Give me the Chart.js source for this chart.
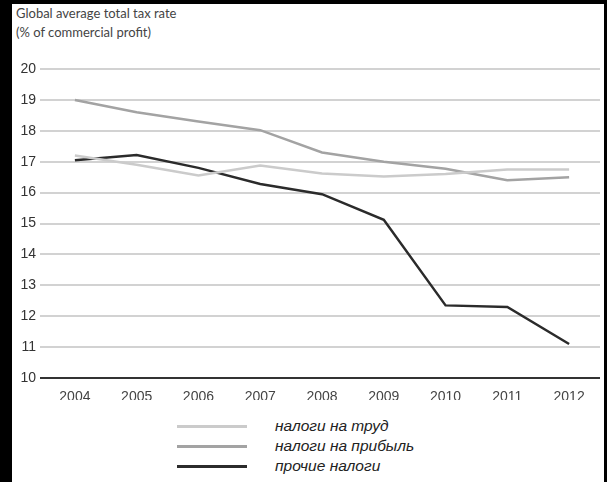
<!DOCTYPE html>
<html>
<head>
<meta charset="utf-8">
<script src="https://cdn.jsdelivr.net/npm/chart.js@4"></script>
<style>
  body { margin: 0; background: #fff; }
  #frame { position: relative; width: 607px; height: 482px; overflow: hidden; background: #fff; }
  #frame .bl { position: absolute; left: 0; top: 0; width: 12px; height: 482px; background: #000; }
  #frame .bt { position: absolute; left: 0; top: 0; width: 607px; height: 4px; background: #000; }
  #frame .br { position: absolute; right: 0; top: 0; width: 3px; height: 482px; background: #000; }
  #title { position: absolute; left: 16px; top: 4px; font-family: Lato, sans-serif; font-size: 13px; line-height: 19px; color: #444; }
  #wrap { position: absolute; left: 12px; top: 0; width: 592px; height: 400px; }
  #legend { position: absolute; left: 177px; top: 416px; font-family: "Liberation Sans", Arial, sans-serif; font-style: italic; font-size: 15.5px; color: #222; }
  #legend div { height: 20px; line-height: 20px; display: flex; align-items: center; }
  #legend span.ln { display: inline-block; width: 70px; height: 3px; margin-right: 28px; }
</style>
</head>
<body>
<div id="frame">
  <div class="bl"></div><div class="bt"></div><div class="br"></div>
  <div id="title">Global average total tax rate<br>(% of commercial profit)</div>
  <div id="wrap"><canvas id="myChart"></canvas></div>
  <div id="legend"></div>
</div>
<script>
const years = ['2004', '2005', '2006', '2007', '2008', '2009', '2010', '2011', '2012'];
const laborTax = [17.2, 16.9, 16.55, 16.88, 16.62, 16.52, 16.6, 16.75, 16.75];
const profitTax = [19.0, 18.6, 18.3, 18.02, 17.3, 17.0, 16.77, 16.4, 16.5];
const otherTax = [17.05, 17.22, 16.8, 16.28, 15.95, 15.12, 12.35, 12.3, 11.1];
const seriesNames = ['налоги на труд', 'налоги на прибыль', 'прочие налоги'];
const seriesColors = ['#cbcbcb', '#a3a3a3', '#2b2b2b'];

const ctx = document.getElementById('myChart').getContext('2d');
const chart = new Chart(ctx, {
  type: 'line',
  data: {
    labels: years,
    datasets: [
      { label: seriesNames[0], data: laborTax, borderColor: seriesColors[0], borderWidth: 2.5, pointRadius: 0, tension: 0 },
      { label: seriesNames[1], data: profitTax, borderColor: seriesColors[1], borderWidth: 2.5, pointRadius: 0, tension: 0 },
      { label: seriesNames[2], data: otherTax, borderColor: seriesColors[2], borderWidth: 2.5, pointRadius: 0, tension: 0 }
    ]
  },
  options: {
    responsive: true,
    maintainAspectRatio: false,
    animation: false,
    layout: { padding: { top: 69, right: 4, left: 0, bottom: 0 } },
    plugins: {
      legend: { display: false },
      title: { display: false },
      tooltip: { enabled: false }
    },
    scales: {
      x: {
        offset: true,
        grid: { display: false },
        border: { display: false },
        ticks: { color: '#444', padding: 3, font: { family: 'Liberation Sans', size: 14 } },
        afterFit: (s) => { s.height = 22; }
      },
      y: {
        min: 10,
        max: 20,
        border: { display: false },
        grid: {
          color: (c) => c.tick && c.tick.value === 10 ? '#333' : '#d2d2d2',
          lineWidth: 2,
          tickLength: 4,
          drawTicks: true
        },
        ticks: { stepSize: 1, color: '#333', padding: 4, font: { family: 'Liberation Sans', size: 14 } },
        afterFit: (s) => { s.width = 32; }
      }
    }
  }
});

// legend stacked vertically, built from the datasets
const leg = document.getElementById('legend');
chart.data.datasets.forEach((d) => {
  const row = document.createElement('div');
  row.innerHTML = '<span class="ln" style="background:' + d.borderColor + '"></span>' + d.label;
  leg.appendChild(row);
});
</script>
</body>
</html>
